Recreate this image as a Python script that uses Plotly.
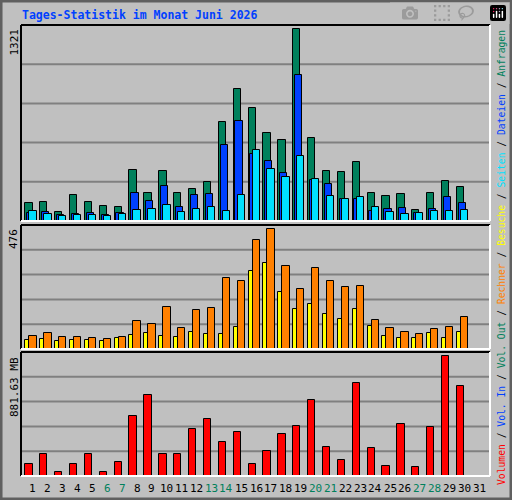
import plotly.graph_objects as go

days = list(range(1, 32))
d30 = list(range(1, 31))
hits  = [126,132,64,181,132,105,98,353,195,347,195,222,270,684,912,781,608,560,1321,574,347,340,408,195,174,188,77,195,277,236]
files = [57,64,43,50,57,43,57,195,139,243,98,181,188,526,691,464,415,333,1009,284,257,153,153,70,84,91,57,84,167,126]
pages = [70,50,36,43,43,36,50,77,84,112,64,84,98,70,181,491,360,305,450,291,174,153,167,98,64,50,57,70,70,77]
visits = [37,41,33,37,37,33,45,57,65,53,49,68,61,61,88,309,341,226,159,179,140,120,159,92,53,45,45,65,45,68]
sites  = [53,65,49,49,45,41,49,112,100,167,84,155,163,282,270,432,476,329,238,321,270,246,250,116,84,68,61,80,88,128]
volume = [91,165,32,91,165,32,106,438,593,165,165,349,416,253,320,91,187,305,371,556,216,121,681,209,76,379,69,357,882,659]
weekend = [6,7,13,14,20,21,27,28]
title = "Tages-Statistik im Monat Juni 2026"

BG = "#C0C0C0"
W = 0.49
fig = go.Figure()
def bar(y, color, off, width, ax):
    fig.add_trace(go.Bar(x=d30, y=y, offset=off, width=width, marker=dict(color=color, line=dict(color="black", width=1)),
                         xaxis="x" + ax, yaxis="y" + ax, showlegend=False))
bar(hits, "#00805C", -0.51, W, "")
bar(files, "#0040FF", -0.39, W, "")
bar(pages, "#00E0FF", -0.24, W, "")
bar(visits, "#FFFF00", -0.51, 0.27, "2")
bar(sites, "#FF8000", -0.24, W, "2")
bar(volume, "#FF0000", -0.51, W, "3")

X0, X1 = 21/512, 490/512
def yd(top, bot): return [(500-bot)/500, (500-top)/500]
xr = [0.2, 31.72]
common_x = dict(range=xr, showticklabels=False, showgrid=False, zeroline=False, domain=[X0, X1], fixedrange=True)
common_y = dict(showticklabels=False, showgrid=False, zeroline=False, fixedrange=True)
fig.update_layout(
    width=512, height=500, margin=dict(l=0, r=0, t=0, b=0),
    paper_bgcolor=BG, plot_bgcolor=BG, barmode="overlay", bargap=0,
    xaxis=dict(**common_x, anchor="y"), yaxis=dict(**common_y, domain=yd(25, 221), range=[0, 1351]),
    xaxis2=dict(**common_x, anchor="y2"), yaxis2=dict(**common_y, domain=yd(225, 349), range=[0, 490]),
    xaxis3=dict(**common_x, anchor="y3"), yaxis3=dict(**common_y, domain=yd(352, 476), range=[0, 911]),
)
shapes = []
for ax in ["", "2", "3"]:
    for f in [0.2, 0.4, 0.6, 0.8]:
        shapes.append(dict(type="line", xref=f"x{ax} domain", yref=f"y{ax} domain", x0=0, x1=1, y0=f, y1=f,
                           line=dict(color="#808080", width=2), layer="below"))
    shapes.append(dict(type="line", xref=f"x{ax} domain", yref=f"y{ax} domain", x0=0, x1=1, y0=1, y1=1, line=dict(color="black", width=2)))
    shapes.append(dict(type="line", xref=f"x{ax} domain", yref=f"y{ax} domain", x0=0, x1=0, y0=0, y1=1, line=dict(color="black", width=2)))
    shapes.append(dict(type="line", xref=f"x{ax} domain", yref=f"y{ax} domain", x0=1, x1=1, y0=0, y1=1, line=dict(color="white", width=2)))
    shapes.append(dict(type="line", xref=f"x{ax} domain", yref=f"y{ax} domain", x0=0, x1=1, y0=0, y1=0, line=dict(color="white", width=2)))
shapes.append(dict(type="rect", xref="paper", yref="paper", x0=0.002, x1=0.998, y0=0.002, y1=0.998, line=dict(color="#606060", width=3)))
fig.update_layout(shapes=shapes)

MONO = "DejaVu Sans Mono"
ann = []
ann.append(dict(text=f"<b>{title}</b>", x=20/512, y=1-15/500, xref="paper", yref="paper", xanchor="left", yanchor="middle",
                showarrow=False, font=dict(family=MONO, size=11.5, color="#0040FF")))
for lab, top in [(str(max(hits)), 27), (str(max(sites)), 227), (f"{max(volume)-0.37:.2f} MB", 355)]:
    ann.append(dict(text=lab, x=14/512, y=1-top/500, xref="paper", yref="paper", xanchor="center", yanchor="top",
                    textangle=-90, showarrow=False, font=dict(family=MONO, size=11, color="black")))
for d in days:
    ann.append(dict(text=str(d), x=d, y=1-488/500, xref="x3", yref="paper", xanchor="center", yanchor="middle",
                    showarrow=False, font=dict(family=MONO, size=11, color="#00805C" if d in weekend else "black")))
parts = [("Volumen", "#FF0000"), ("Vol. In", "#0040FF"), ("Vol. Out", "#00805C"), ("Rechner", "#FF8000"),
         ("Besuche", "#FFFF00"), ("Seiten", "#00E0FF"), ("Dateien", "#0040FF"), ("Anfragen", "#00805C")]
txt = "<span style='color:black'> / </span>".join(f"<span style='color:{c}'>{t}</span>" for t, c in parts)
ann.append(dict(text=txt, x=501/512, y=1-258/500, xref="paper", yref="paper", xanchor="center", yanchor="middle",
                textangle=-90, showarrow=False, font=dict(family=MONO, size=9.7, color="black")))
fig.update_layout(annotations=ann)
fig.write_html("out.html", post_script="document.body.style.margin='0';document.body.style.overflow='hidden';")
